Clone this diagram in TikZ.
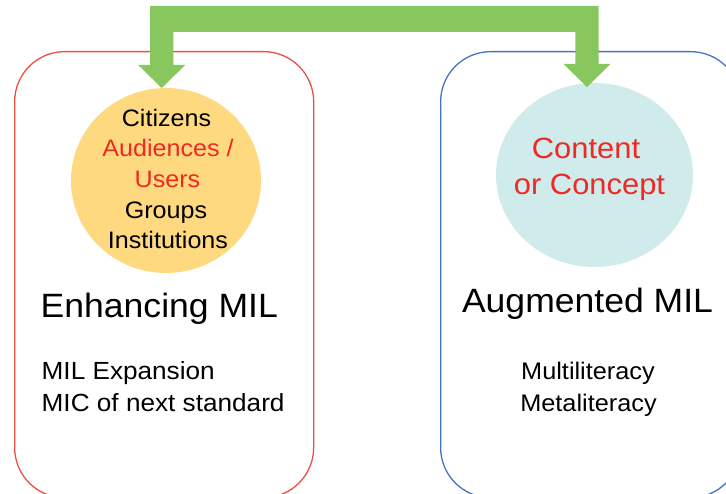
\documentclass[tikz,border=0pt]{standalone}
\usepackage{fontspec}
\setmainfont{Liberation Sans}[FakeStretch=1.055]
\usetikzlibrary{shapes.geometric,calc}
\definecolor{arrowgreen}{RGB}{136,199,94}
\definecolor{boxred}{RGB}{236,80,64}
\definecolor{boxblue}{RGB}{68,114,196}
\definecolor{circyellow}{RGB}{255,217,128}
\definecolor{circcyan}{RGB}{208,235,236}
\definecolor{txtred}{RGB}{237,42,36}
\begin{document}
\begin{tikzpicture}[x=1pt,y=-1pt,
  panel/.style={draw, line width=1.3pt, rounded corners=50pt, inner sep=0pt, anchor=north west},
  blob/.style={ellipse, inner sep=0pt},
  txt/.style={inner sep=0pt, anchor=base},
  ltxt/.style={inner sep=0pt, anchor=base west},
  small/.style={font=\fontsize{23.8}{28}\selectfont},
  body/.style={font=\fontsize{24}{29}\selectfont},
  lbody/.style={font=\fontsize{24.8}{29}\selectfont},
  big/.style={font=\fontsize{33.7}{40}\selectfont},
  mid/.style={font=\fontsize{29.3}{35}\selectfont}]
\useasboundingbox (0,0) rectangle (726,494);
\clip (0,0) rectangle (726,494);
% panels
\node[panel, draw=boxred, minimum width=299pt, minimum height=446pt] (lbox) at (14,51) {};
\node[panel, draw=boxblue, minimum width=300pt, minimum height=446pt] (rbox) at (440,51) {};
% circles
\node[blob, fill=circyellow, minimum width=190pt, minimum height=185pt] (lcirc) at (166,180.5) {};
\node[blob, fill=circcyan, minimum width=197pt, minimum height=184pt] (rcirc) at (594.5,175) {};
% connector arrow
\coordinate (ltip) at (161.7,88);
\coordinate (rtip) at (587,87);
\fill[arrowgreen] (ltip) -- ++(23.5,-23) -- ++(-11.8,0) |- ($(rtip)+(-11.7,-55)$)
  -- ++(0,32) -- ++(-11.8,0) -- (rtip) -- ++(23.5,-23) -- ++(-11.8,0)
  |- ($(ltip)+(-11.7,-82)$) -- ++(0,59) -- ++(-11.8,0) -- cycle;
% circle texts
\node[txt, small] (c1) at (166.5,126.7) {Citizens};
\node[txt, small, text=txtred] (c2) at (168,156.7) {Audiences /};
\node[txt, small, text=txtred] (c3) at (167.5,187.5) {Users};
\node[txt, small] (c4) at (166,218.3) {Groups};
\node[txt, small] (c5) at (168,248.3) {Institutions};
\node[txt, mid, text=txtred] (r1) at (586,158.3) {Content};
\node[txt, mid, text=txtred] (r2) at (589.5,195) {or Concept};
% headings
\node[ltxt, big] (lh) at (40.5,317.3) {Enhancing MIL};
\node[txt, big] (rh) at (587.5,312.3) {Augmented MIL};
% body texts
\node[ltxt, lbody] (l1) at (41.5,379.3) {MIL Expansion};
\node[ltxt, lbody] (l2) at (41.5,411.7) {MIC of next standard};
\node[txt, body] (m1) at (588,380) {Multiliteracy};
\node[txt, body] (m2) at (588.5,411.7) {Metaliteracy};
\end{tikzpicture}
\end{document}
